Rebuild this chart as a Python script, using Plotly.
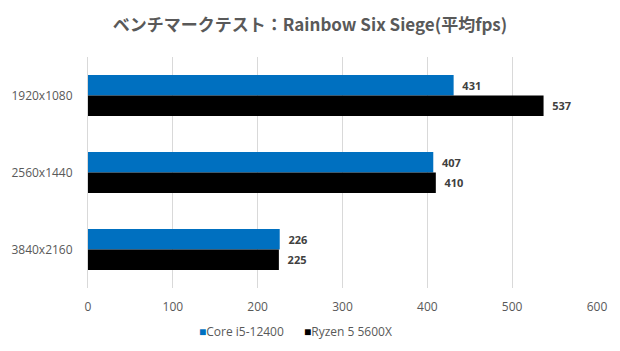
import plotly.graph_objects as go

categories = ["1920x1080", "2560x1440", "3840x2160"]
core_i5 = [431, 407, 226]
ryzen5 = [537, 410, 225]
x_ticks = [0, 100, 200, 300, 400, 500, 600]
series_names = ["Core i5-12400", "Ryzen 5 5600X"]
series_colors = ["#0070C0", "#000000"]
legend_x = [0.214, 0.42]

font_title = "Noto Sans CJK JP, sans-serif"
font_main = "Open Sans, Noto Sans, sans-serif"

fig = go.Figure()
for name, vals, col in zip(series_names, [core_i5, ryzen5], series_colors):
    fig.add_trace(go.Bar(
        y=categories, x=vals, name=name, orientation="h",
        marker=dict(color=col, line=dict(width=0)),
        text=vals, texttemplate="  %{x}", textposition="outside",
        textfont=dict(size=11, color="#404040", family=font_main, weight="bold"),
        cliponaxis=False,
    ))

for name, col, lx in zip(series_names, series_colors, legend_x):
    fig.add_annotation(
        text=f'<span style="color:{col}">■</span><span style="color:#595959">{name}</span>',
        xref="paper", yref="paper", x=lx, y=-0.19, xanchor="left", yanchor="middle",
        showarrow=False, font=dict(size=12, family=font_main))

fig.update_layout(
    width=620, height=351,
    margin=dict(l=88, r=23, t=57, b=63),
    paper_bgcolor="white", plot_bgcolor="white",
    barmode="group", bargap=0.47, bargroupgap=0,
    showlegend=False,
    title=dict(text="ベンチマークテスト：Rainbow Six Siege(平均fps)",
               x=0.5, xref="container", xanchor="center",
               y=0.93, yref="container", yanchor="middle",
               font=dict(size=17, color="#595959", family=font_title, weight="bold")),
    font=dict(family=font_main, size=12, color="#595959"),
    xaxis=dict(range=[0, 600], tickvals=x_ticks, showgrid=True, gridcolor="#D9D9D9",
               gridwidth=1, zeroline=False, showline=False, ticks="",
               tickfont=dict(size=12, color="#595959", family=font_main), ticklabelstandoff=10),
    yaxis=dict(autorange="reversed", showline=True, linecolor="#D9D9D9", linewidth=1,
               ticks="", tickfont=dict(size=12, color="#595959", family=font_main),
               ticklabelstandoff=12),
)

fig.write_html("out.html")
